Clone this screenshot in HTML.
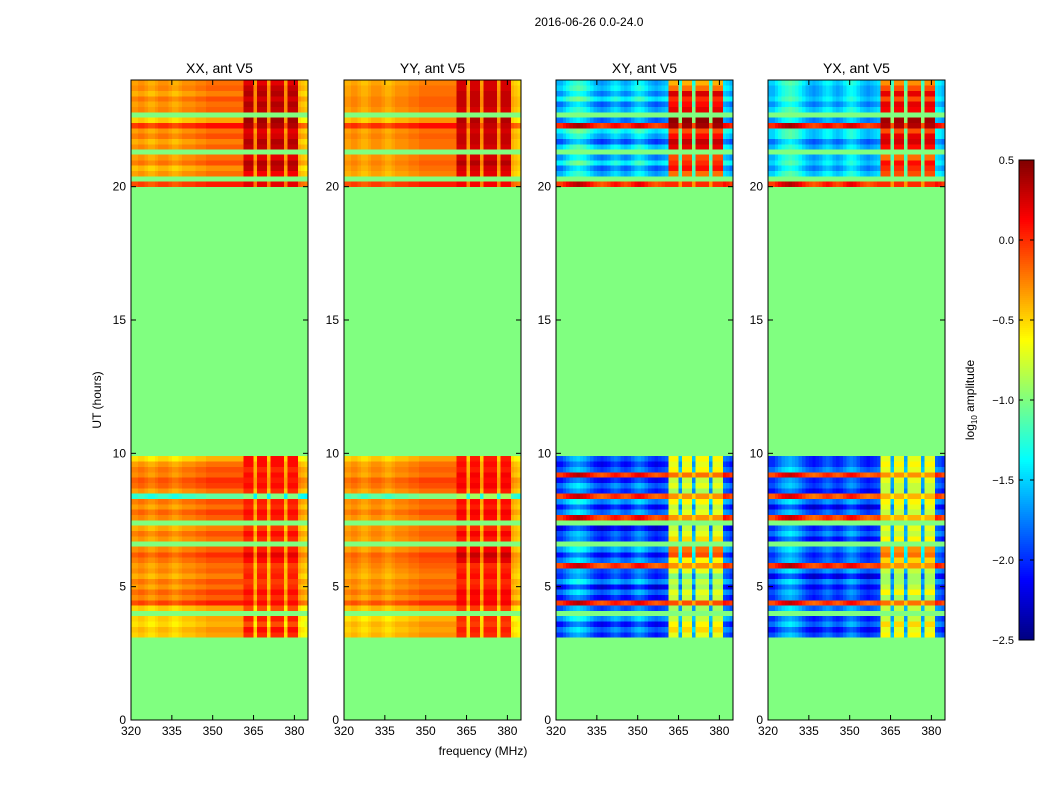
<!DOCTYPE html>
<html><head><meta charset="utf-8"><style>
body{margin:0;background:#fff;}
svg{display:block;font-family:"Liberation Sans",sans-serif;}
</style></head><body>
<svg id="fig" width="1050" height="800">
<text x="589" y="26" font-size="12" text-anchor="middle">2016-06-26 0.0-24.0</text>
<text transform="translate(101,400) rotate(-90)" font-size="12" text-anchor="middle">UT (hours)</text>
<text x="483" y="755" font-size="12" text-anchor="middle">frequency (MHz)</text>
<text transform="translate(974,400) rotate(-90)" font-size="12" text-anchor="middle">log<tspan font-size="8" dy="3">10</tspan><tspan dy="-3"> amplitude</tspan></text>
<g id="panels"></g>
<g id="cbar"></g>
</svg>
<script>
const panelTitles=["XX, ant V5","YY, ant V5","XY, ant V5","YX, ant V5"];
const yTicks=[0,5,10,15,20];
const xTicks=[320,335,350,365,380];
const cbarTicks=[0.5,0.0,-0.5,-1.0,-1.5,-2.0,-2.5];
const fillValue=-1.0;
// column type per 1.25 MHz bin from 320 MHz: 0 = low band, 1 = high band, 2 = gap channel
const colType=[0,0,0,0,0,0,0,0,0,0,0,0,0,0,0,0,0,0,0,0,0,0,0,0,0,0,0,0,0,0,0,0,0,1,1,1,2,1,1,1,2,1,1,1,1,2,1,1,1,0,0,0];
const coLowMod=[-0.05,-0.05,0,0,-0.05,-0.1,-0.1,-0.05,0,0,0,-0.05,-0.1,-0.1,-0.05,0,0,0,0,0.05,0.05,0.05,0.1,0.1,0.1,0.1,0.1,0.1,0.1,0.1,0.1,0.1,0.1,0,0,0,0,0,0,0,0,0,0,0,0,0,0,0,0,-0.1,-0.15,-0.2];
const crossLowMod=[0,0,0.1,0.2,0.3,0.35,0.4,0.35,0.3,0.2,0.1,0,-0.05,-0.1,-0.05,0,0.1,0.15,0.1,0,-0.05,0,0.1,0.2,0.25,0.2,0.1,0,-0.05,-0.1,-0.05,0,0.05,0,0,0,0,0,0,0,0,0,0,0,0,0,0,0,0,0.15,0.1,0];
// row values, segment A 3.1–9.9 h, segment B 20.0–24.0 h (0.2 h bins); null = flagged
const xxLowA=[-0.45,-0.4,-0.5,-0.45,null,-0.45,-0.05,-0.25,-0.15,-0.3,-0.2,-0.35,-0.25,-0.3,-0.2,-0.1,-0.25,null,-0.3,-0.2,-0.35,null,-0.25,-0.15,-0.3,-0.2,-1.2,-0.3,-0.15,-0.1,-0.25,-0.2,-0.3,-0.5];
const xxHighA=[0.0,0.1,-0.1,0.05,null,-0.1,0.1,0.0,0.1,0.0,-0.05,0.05,0.0,-0.05,0.1,0.2,0.05,null,0.0,0.1,-0.05,null,0.05,0.1,0.0,0.05,-1.0,0.0,0.1,0.05,0.1,0.0,0.1,0.1];
const yyLowA=[-0.4,-0.45,-0.4,-0.5,null,-0.4,-0.1,-0.3,-0.2,-0.3,-0.25,-0.35,-0.3,-0.25,-0.2,-0.15,-0.3,null,-0.3,-0.25,-0.3,null,-0.3,-0.2,-0.3,-0.25,-1.1,-0.3,-0.2,-0.15,-0.3,-0.25,-0.3,-0.45];
const yyHighA=[0.0,0.05,-0.05,0.0,null,-0.05,0.15,0.1,0.15,0.05,0.0,0.1,0.05,0.0,0.2,0.3,0.15,null,0.05,0.15,0.0,null,0.1,0.15,0.05,0.1,-0.9,0.05,0.15,0.1,0.15,0.05,0.1,0.05];
const xyLowA=[-2.0,-1.8,-2.1,-1.7,null,-1.9,-0.05,-2.1,-1.8,-2.2,-1.7,-2.0,-1.9,-0.1,-1.8,-2.1,-1.7,null,-2.0,-1.9,-2.2,null,-0.05,-1.8,-2.1,-1.7,-0.1,-2.0,-1.8,-2.1,-0.05,-1.9,-2.1,-1.9];
const xyHighA=[-0.7,-0.5,-0.6,-0.8,null,-0.9,-0.1,-0.8,-0.7,-0.9,-0.8,-1.0,-0.7,-0.3,-0.6,-0.1,-0.2,null,-0.5,-0.7,-0.8,null,-0.3,-0.7,-0.8,-0.6,-0.3,-0.9,-0.7,-0.8,-0.2,-0.6,-0.7,-0.6];
const yxLowA=[-1.9,-2.1,-1.8,-2.0,null,-1.8,-0.1,-2.0,-1.9,-2.1,-1.8,-2.2,-1.8,-0.05,-1.9,-2.0,-1.8,null,-2.1,-1.8,-2.0,null,-0.1,-1.9,-2.2,-1.8,-0.15,-2.1,-1.9,-2.0,-0.1,-1.8,-2.0,-2.0];
const yxHighA=[-0.6,-0.7,-0.5,-0.8,null,-0.8,-0.2,-0.9,-0.6,-0.8,-0.9,-0.9,-0.8,-0.3,-0.5,-0.2,-0.3,null,-0.6,-0.8,-0.7,null,-0.4,-0.8,-0.7,-0.6,-0.4,-0.8,-0.8,-0.7,-0.3,-0.7,-0.6,-0.7];
const xxLowB=[-0.05,null,-0.3,-0.4,-0.2,-0.3,null,-0.25,-0.35,-0.2,-0.3,0.0,-0.45,null,-0.25,-0.3,-0.2,-0.35,-0.25,-0.3];
const xxHighB=[0.2,null,0.15,0.3,0.35,0.2,null,0.3,0.35,0.25,0.2,0.35,0.4,null,0.3,0.35,0.25,0.35,0.3,0.2];
const yyLowB=[-0.05,null,-0.35,-0.3,-0.25,-0.3,null,-0.3,-0.3,-0.25,-0.3,0.0,-0.4,null,-0.3,-0.25,-0.25,-0.3,-0.3,-0.35];
const yyHighB=[0.15,null,0.2,0.25,0.35,0.25,null,0.25,0.3,0.3,0.25,0.3,0.35,null,0.25,0.3,0.3,0.3,0.25,0.25];
const xyLowB=[-0.05,null,-1.6,-1.8,-1.4,-1.7,null,-1.5,-1.9,-1.6,-1.4,0.0,-1.8,null,-1.6,-1.8,-1.4,-1.7,-1.5,-1.6];
const xyHighB=[0.0,null,-0.2,0.1,0.0,-0.1,null,0.2,0.3,0.1,-0.1,0.4,0.45,null,0.2,0.1,0.0,0.25,-0.2,-0.4];
const yxLowB=[-0.05,null,-1.5,-1.7,-1.5,-1.6,null,-1.6,-1.8,-1.5,-1.5,0.0,-1.7,null,-1.5,-1.7,-1.5,-1.6,-1.6,-1.5];
const yxHighB=[0.0,null,-0.1,0.0,0.1,-0.2,null,0.1,0.25,0.2,-0.1,0.35,0.4,null,0.15,0.2,-0.1,0.2,-0.1,-0.3];
const segAStart=3.1, segBStart=20.0, binH=0.2, freqStart=320, binF=1.25;
const panelData=[
 [xxLowA,xxHighA,xxLowB,xxHighB,coLowMod],
 [yyLowA,yyHighA,yyLowB,yyHighB,coLowMod],
 [xyLowA,xyHighA,xyLowB,xyHighB,crossLowMod],
 [yxLowA,yxHighA,yxLowB,yxHighB,crossLowMod]];
const panelX=[131,344,556,768], pw=177, plotTop=80, plotBottom=720;
const NS="http://www.w3.org/2000/svg";
function yScale(t){return plotBottom-(t/24)*(plotBottom-plotTop);}
function jet(v){let t=(v+2.5)/3;t=Math.max(0,Math.min(1,t));
 const f=x=>Math.max(0,Math.min(1,x));
 const r=f(1.5-Math.abs(4*t-3)),g=f(1.5-Math.abs(4*t-2)),b=f(1.5-Math.abs(4*t-1));
 return `rgb(${Math.round(r*255)},${Math.round(g*255)},${Math.round(b*255)})`;}
function mk(tag,attrs,parent){const e=document.createElementNS(NS,tag);for(const k in attrs)e.setAttribute(k,attrs[k]);parent.appendChild(e);return e;}
const panels=document.getElementById('panels');
panelX.forEach((px,p)=>{
 const xScale=f=>px+(f-320)/65*pw;
 const g=mk('g',{},panels);
 
 
 const bg=mk('rect',{x:px,y:plotTop,width:pw,height:plotBottom-plotTop,fill:jet(fillValue)},g);
 
 
 const [la,ha,lb,hb,lm]=panelData[p];
 [[la,ha,segAStart],[lb,hb,segBStart]].forEach(([lows,highs,start])=>{
  lows.forEach((lv,i)=>{
   if(lv===null)return;
   const hv=highs[i];
   const y0=yScale(start+(i+1)*binH),y1=yScale(start+i*binH);
   colType.forEach((ct,j)=>{
    const v = ct===1 ? hv : (ct===2 ? (lv+hv)/2-0.3 : lv+lm[j]);
    const x0=xScale(freqStart+j*binF),x1=Math.min(xScale(freqStart+(j+1)*binF),px+pw);
    const r=mk('rect',{x:x0,y:y0,width:x1-x0+0.3,height:y1-y0+0.3,fill:jet(v),'shape-rendering':'crispEdges'},g);
    
    
   });
  });
 });
 const fr=mk('rect',{x:px,y:plotTop,width:pw,height:plotBottom-plotTop,fill:'none',stroke:'#000','stroke-width':1},g);
 
 
 const tt=mk('text',{x:px+pw/2,y:plotTop-7,'font-size':14,'text-anchor':'middle'},g);tt.textContent=panelTitles[p];
 
 
 yTicks.forEach(v=>{const y=yScale(v);
  mk('line',{x1:px,x2:px+5,y1:y,y2:y,stroke:'#000'},g);
  mk('line',{x1:px+pw,x2:px+pw-5,y1:y,y2:y,stroke:'#000'},g);
  const t=mk('text',{x:px-5,y:y+4,'font-size':12,'text-anchor':'end'},g);t.textContent=v;
  
  });
 xTicks.forEach(v=>{const x=xScale(v);
  mk('line',{x1:x,x2:x,y1:plotBottom,y2:plotBottom-5,stroke:'#000'},g);
  mk('line',{x1:x,x2:x,y1:plotTop,y2:plotTop+5,stroke:'#000'},g);
  const t=mk('text',{x:x,y:plotBottom+15,'font-size':12,'text-anchor':'middle'},g);t.textContent=v;
  
  });
});
const cb=document.getElementById('cbar');
const cbX=1019,cbW=15,cbTop=160,cbBot=640;
const cbY=v=>cbBot-(v+2.5)/3*(cbBot-cbTop);
for(let i=0;i<240;i++){const v=-2.5+3*(i+0.5)/240;
 const r=mk('rect',{x:cbX,y:cbY(v)-1.5,width:cbW,height:2.5,fill:jet(v),'shape-rendering':'crispEdges'},cb);
 
 }
const cf=mk('rect',{x:cbX,y:cbTop,width:cbW,height:cbBot-cbTop,fill:'none',stroke:'#000'},cb);


cbarTicks.forEach(v=>{const y=cbY(v);
 mk('line',{x1:cbX,x2:cbX+4,y1:y,y2:y,stroke:'#000'},cb);
 mk('line',{x1:cbX+cbW-4,x2:cbX+cbW,y1:y,y2:y,stroke:'#000'},cb);
 const t=mk('text',{x:cbX-5,y:y+4,'font-size':11,'text-anchor':'end'},cb);t.textContent=v.toFixed(1).replace('-','\u2212');
 
 });
</script>
</body></html>
